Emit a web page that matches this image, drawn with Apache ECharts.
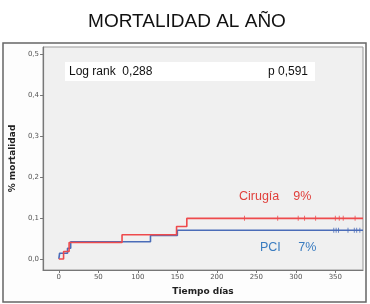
<!DOCTYPE html>
<html><head><meta charset="utf-8">
<script src="https://cdn.jsdelivr.net/npm/echarts@6/dist/echarts.min.js"></script>
<style>html,body{margin:0;padding:0;background:#fff}#c{width:370px;height:304px}</style>
</head><body><div id="c"></div>
<script>
const titleText = 'MORTALIDAD AL AÑO';
const xTicks = [0, 50, 100, 150, 200, 250, 300, 350];
const yTicks = [0, 0.1, 0.2, 0.3, 0.4, 0.5];
// Kaplan-Meier step points [day, cumulative mortality]
const cirugiaSteps = [[0,0],[6,0.018],[13,0.040],[80,0.059],[149,0.079],[162,0.099],[385,0.099]];
const pciSteps = [[0,0],[1,0.014],[11,0.026],[15,0.042],[116,0.057],[150,0.070],[385,0.070]];
const cirugiaCensored = [235,277,303,311,325,350,355,360,375];
const pciCensored = [348,351,354,366,374,377,381];
const cirugiaFinal = 0.099, pciFinal = 0.070;

const chart = echarts.init(document.getElementById('c'));
chart.setOption({
  animation:false,
  title:{text:titleText,left:182,textAlign:'center',top:7,textStyle:{fontFamily:'Liberation Sans, Arial',fontWeight:'normal',fontSize:19,color:'#111'}},
  graphic:[
    {type:'rect',shape:{x:3,y:43,width:363,height:259},style:{fill:'#fdfdfd',stroke:'#666',lineWidth:1.5},z:-10,silent:true},
    {type:'rect',shape:{x:65,y:62,width:250,height:19},style:{fill:'#fff'},z:10},
    {type:'text',x:69,y:71.5,style:{text:'Log rank  0,288',font:'12px Liberation Sans',fill:'#111',textVerticalAlign:'middle'},z:11},
    {type:'text',x:308,y:71.5,style:{text:'p 0,591',font:'12px Liberation Sans',fill:'#111',textAlign:'right',textVerticalAlign:'middle'},z:11},
    {type:'text',x:239,y:197,style:{text:'Cirugía    9%',font:'12.5px Liberation Sans',fill:'#e0403c',textVerticalAlign:'middle'},z:11},
    {type:'text',x:260,y:248,style:{text:'PCI     7%',font:'12.5px Liberation Sans',fill:'#3a7cc0',textVerticalAlign:'middle'},z:11}
  ],
  grid:{left:40,top:47,right:7,bottom:34,show:true,backgroundColor:'#f0f0f0',borderColor:'#999',borderWidth:1},
  xAxis:{type:'value',min:-20,max:385,
    name:'Tiempo días',nameLocation:'middle',nameGap:17,
    nameTextStyle:{fontFamily:'DejaVu Sans',fontWeight:'bold',fontSize:9,color:'#222'},
    axisLine:{show:true,onZero:false,lineStyle:{color:'#777',width:1.2}},
    axisTick:{show:true,length:3,customValues:xTicks,lineStyle:{color:'#777'}},
    axisLabel:{customValues:xTicks,fontSize:7,color:'#555',margin:4,fontFamily:'DejaVu Sans'},
    splitLine:{show:false}},
  yAxis:{type:'value',min:-0.027,max:0.517,
    name:'% mortalidad',nameLocation:'middle',nameGap:24,nameRotate:90,
    nameTextStyle:{fontFamily:'DejaVu Sans',fontWeight:'bold',fontSize:9,color:'#222'},
    axisLine:{show:true,onZero:false,lineStyle:{color:'#777',width:1.2}},
    axisTick:{show:true,length:3,customValues:yTicks,lineStyle:{color:'#777'}},
    axisLabel:{customValues:yTicks,fontSize:7,color:'#555',margin:4,fontFamily:'DejaVu Sans',formatter:v=>v.toFixed(1).replace('.',',')},
    splitLine:{show:false}},
  series:[
    {type:'line',step:'end',data:pciSteps,symbol:'none',lineStyle:{color:'#4a6cb8',width:1.6},z:3},
    {type:'line',step:'end',data:cirugiaSteps,symbol:'none',lineStyle:{color:'#ee4a4c',width:1.6},z:4},
    {type:'scatter',data:pciCensored.map(d=>[d,pciFinal]),symbol:'rect',symbolSize:[1,5],itemStyle:{color:'#4a6cb8'},z:5},
    {type:'scatter',data:cirugiaCensored.map(d=>[d,cirugiaFinal]),symbol:'rect',symbolSize:[1,5],itemStyle:{color:'#ee4a4c'},z:5}
  ]
});
</script></body></html>
